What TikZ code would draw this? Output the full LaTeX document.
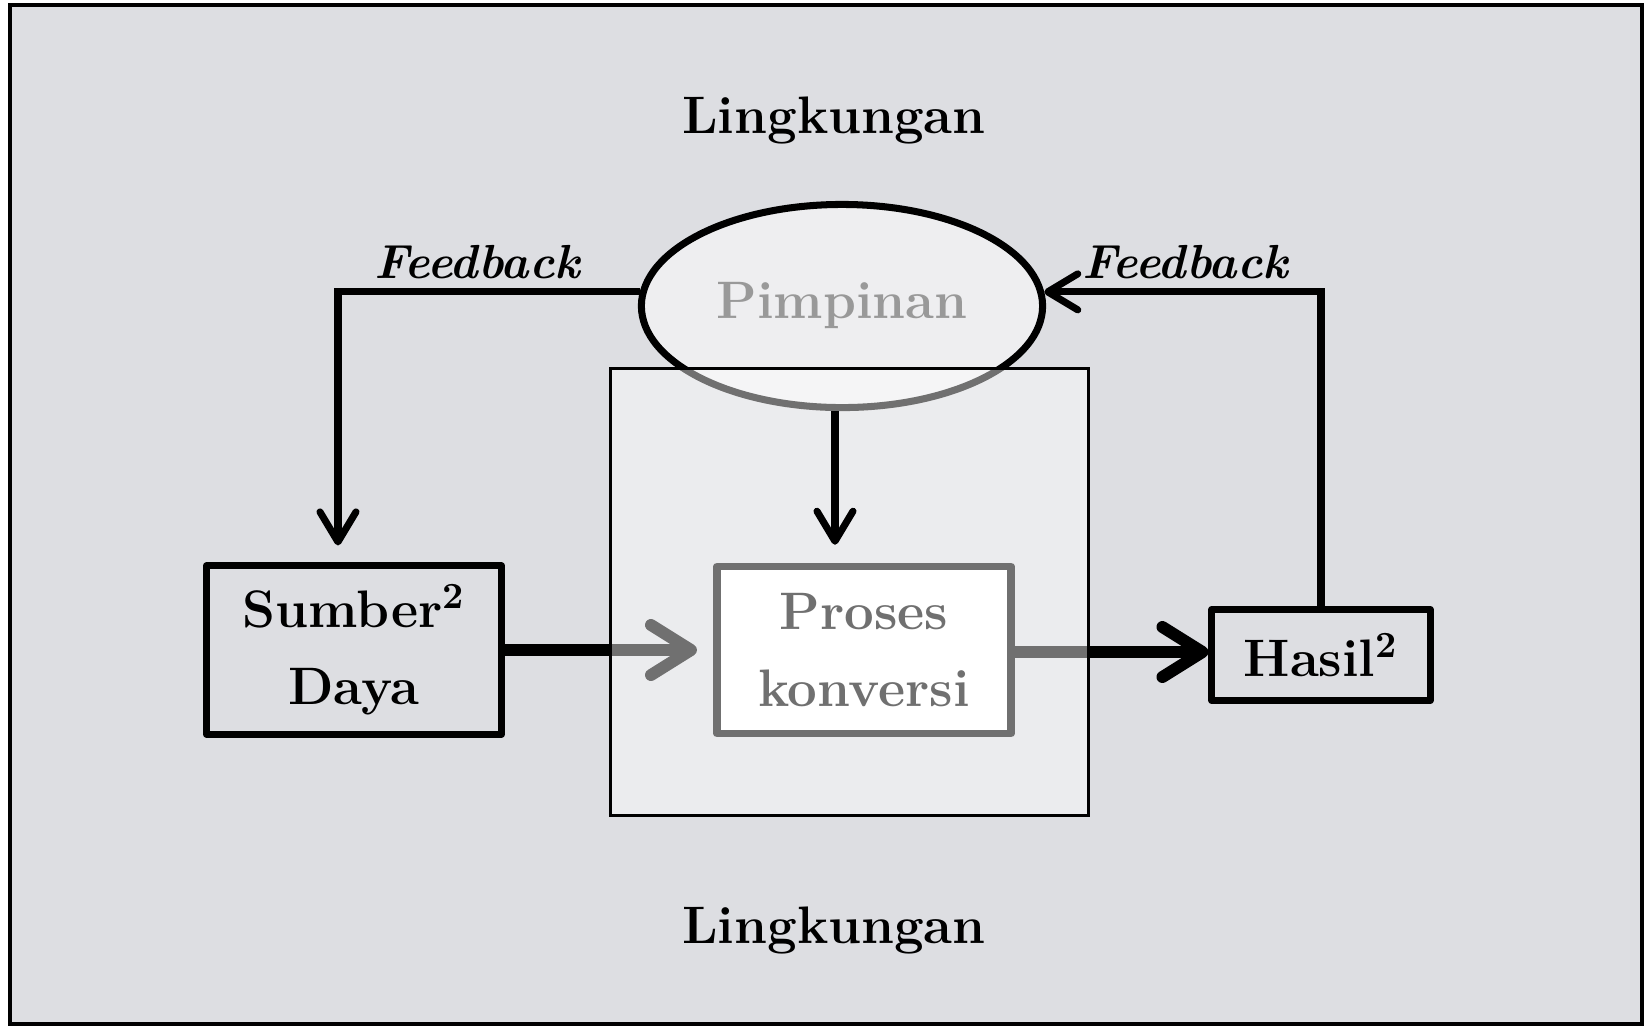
\documentclass[tikz,border=0pt]{standalone}
\usetikzlibrary{arrows.meta,shapes.geometric}

\definecolor{marmer}{RGB}{221,222,226}

\begin{document}
\begin{tikzpicture}[
  x=0.01cm, y=-0.01cm,
  font=\fontsize{15}{22}\selectfont\bfseries,
  kotak/.style={draw, line width=2pt, line join=round, inner sep=0pt, align=center},
  panah/.style={-{Straight Barb[length=0.3cm, width=0.36cm, round]}, line width=2pt},
  panahtebal/.style={-{Straight Barb[length=0.4cm, width=0.5cm, round]}, line width=3.4pt},
  umpan/.style={font=\fontsize{13.6}{18}\selectfont\bfseries\itshape},
]
  \useasboundingbox (0,0) rectangle (1644,1026);
  \clip (0,0) rectangle (1644,1026);
  \draw[line width=1pt, fill=marmer] (10,5) rectangle (1642,1024);

  \node (lingatas) at (834,120) {Lingkungan};
  \node (lingbawah) at (834,930) {Lingkungan};

  \node[ellipse, draw, line width=2pt, fill=white, fill opacity=0.5, text opacity=1,
        text=black!40, minimum width=4.01cm, minimum height=2.03cm, inner sep=0pt]
        (pim) at (842,306) {Pimpinan};

  \node[kotak, minimum width=2.95cm, minimum height=1.68cm] (sumber) at (354,650)
        {Sumber\textsuperscript{2}\\Daya};
  \node[kotak, minimum width=2.18cm, minimum height=0.91cm] (hasil) at (1321,655)
        {Hasil\textsuperscript{2}};

  % aliran utama
  \draw[panahtebal, shorten >=0.17cm] (sumber.east) -- (sumber.east -| 714,0);
  \draw[panahtebal] (1015,652) -- (1015,652 -| hasil.west);

  % umpan balik
  \coordinate (kiri) at ([xshift=-0.16cm]sumber.north);
  \draw[panah, shorten >=0.17cm] (pim.176) -| (kiri);
  \draw[panah] (hasil.north) |- (pim.4);
  \node[umpan] (fbkiri) at (477,262) {Feedback};
  \node[umpan] (fbkanan) at (1185,262) {Feedback};

  \node[kotak, line width=2.1pt, fill=white, minimum width=2.94cm, minimum height=1.67cm]
        (proses) at (864,650) {Proses\\konversi};

  % kotak sistem di atas semuanya
  \node[draw, line width=0.9pt, fill=white, fill opacity=0.44,
        minimum width=4.78cm, minimum height=4.47cm, inner sep=0pt]
        (sistem) at (849.5,592) {};

  \coordinate (pimbawah) at ([xshift=-0.07cm]pim.south);
  \draw[panah, shorten >=0.18cm] (pimbawah) -- (pimbawah |- proses.north);
\end{tikzpicture}
\end{document}
